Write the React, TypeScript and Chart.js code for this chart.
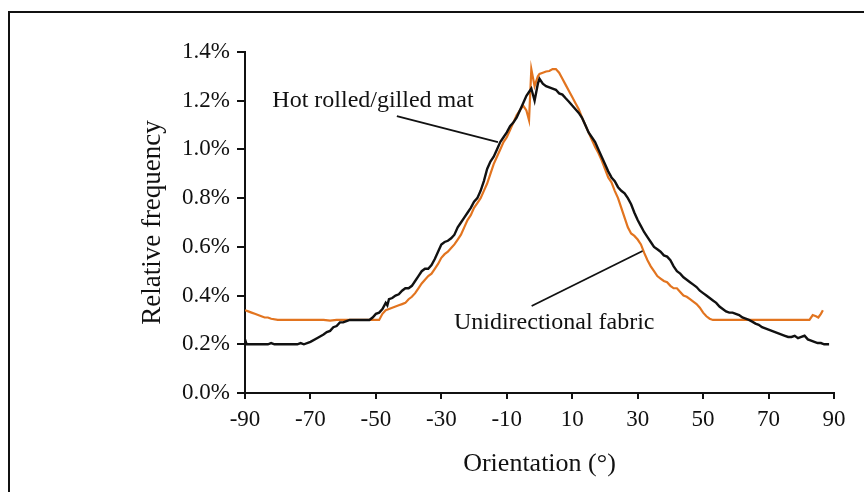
import React, { useEffect, useRef } from "react";
import { Chart, registerables } from "chart.js";

Chart.register(...registerables);

// Orientation (degrees) and relative frequency (%)
const hotX = [
  -90, -89.5, -86, -83, -82, -81, -76, -74, -73, -72, -70, -68, -66, -65, -64, -63, -62, -61, -60, -59,
  -58, -56, -54, -52, -51, -50, -49, -48, -47, -46.5, -46, -45, -44, -43, -42, -41, -40, -39, -38, -37,
  -36, -35, -34, -33, -32, -31, -30, -29, -28, -27, -26, -25, -24, -23, -22, -21, -20, -19, -18, -17,
  -16, -15, -14, -13, -12, -11, -10, -9, -8, -7, -6, -5, -4, -3, -2.5, -1.5, -0.5, 0, 1, 2,
  3, 4, 5, 6, 7, 8, 9, 10, 11, 12, 13, 14, 15, 16, 17, 18, 19, 20, 21, 22,
  23, 24, 25, 26, 27, 28, 29, 30, 31, 32, 33, 34, 35, 36, 37, 38, 39, 40, 41, 42,
  43, 44, 45, 46, 47, 48, 49, 50, 51, 52, 53, 54, 55, 56, 57, 58, 59, 60, 61, 62,
  63, 64, 65, 66, 67, 68, 69, 70, 71, 72, 73, 74, 75, 76, 77, 78, 79, 80, 81, 82,
  83, 84, 85, 86, 87, 88.5,
];
const hotY = [
  0.22, 0.2, 0.2, 0.2, 0.205, 0.2, 0.2, 0.2, 0.205, 0.2, 0.21, 0.225, 0.24, 0.25, 0.255, 0.27, 0.275, 0.29, 0.29, 0.295,
  0.3, 0.3, 0.3, 0.3, 0.31, 0.325, 0.33, 0.345, 0.37, 0.36, 0.385, 0.39, 0.4, 0.405, 0.42, 0.43, 0.43, 0.44, 0.46, 0.48,
  0.5, 0.51, 0.51, 0.525, 0.55, 0.58, 0.61, 0.62, 0.625, 0.635, 0.65, 0.68, 0.7, 0.72, 0.74, 0.76, 0.785, 0.8, 0.83, 0.87,
  0.92, 0.95, 0.97, 1.0, 1.03, 1.05, 1.07, 1.095, 1.11, 1.13, 1.16, 1.19, 1.22, 1.24, 1.25, 1.2, 1.27, 1.29, 1.27, 1.26,
  1.255, 1.25, 1.245, 1.23, 1.225, 1.21, 1.196, 1.18, 1.165, 1.15, 1.13, 1.1, 1.07, 1.05, 1.03, 1.0, 0.97, 0.94, 0.91, 0.885,
  0.87, 0.845, 0.83, 0.82, 0.8, 0.775, 0.74, 0.71, 0.685, 0.66, 0.64, 0.62, 0.6, 0.59, 0.58, 0.565, 0.56, 0.545, 0.52, 0.5,
  0.49, 0.475, 0.465, 0.455, 0.445, 0.435, 0.42, 0.41, 0.4, 0.39, 0.38, 0.37, 0.355, 0.345, 0.335, 0.33, 0.33, 0.325, 0.32, 0.31,
  0.305, 0.3, 0.293, 0.285, 0.28, 0.27, 0.265, 0.26, 0.255, 0.25, 0.245, 0.24, 0.235, 0.23, 0.23, 0.235, 0.225, 0.23, 0.235, 0.22,
  0.215, 0.21, 0.205, 0.205, 0.2, 0.2,
];

const uniX = [
  -90, -89, -88, -87, -86, -85, -84, -83, -82, -80, -75, -70, -66, -64, -62, -55, -50, -49, -48, -47,
  -46, -45, -44, -43, -42, -41, -40, -39, -38, -37, -36, -35, -34, -33, -32, -31, -30, -29, -28, -27,
  -26, -25, -24, -23, -22, -21, -20, -19, -18, -17, -16, -15, -14, -13, -12, -11, -10, -9, -8, -7,
  -6, -5, -4, -3.2, -2.5, -1.5, -0.5, 0, 1, 2, 3, 4, 5, 6, 7, 8, 9, 10, 11, 12,
  13, 14, 15, 16, 17, 18, 19, 20, 21, 22, 23, 24, 25, 26, 27, 28, 29, 30, 31, 32,
  33, 34, 35, 36, 37, 38, 39, 40, 41, 42, 43, 44, 45, 46, 47, 48, 49, 50, 51, 52,
  53, 55, 60, 70, 80, 82.5, 83.5, 84.5, 85.2, 86, 86.6,
];
const uniY = [
  0.34, 0.335, 0.33, 0.325, 0.32, 0.315, 0.31, 0.31, 0.305, 0.3, 0.3, 0.3, 0.3, 0.297, 0.3, 0.3, 0.3, 0.3, 0.325, 0.34,
  0.345, 0.35, 0.355, 0.36, 0.365, 0.37, 0.385, 0.395, 0.41, 0.43, 0.45, 0.465, 0.48, 0.49, 0.51, 0.53, 0.555, 0.57, 0.58, 0.595,
  0.61, 0.63, 0.65, 0.68, 0.71, 0.73, 0.76, 0.78, 0.8, 0.83, 0.86, 0.9, 0.94, 0.97, 1.0, 1.03, 1.05, 1.08, 1.11, 1.14,
  1.16, 1.18, 1.16, 1.12, 1.33, 1.26, 1.3, 1.31, 1.315, 1.32, 1.322, 1.33, 1.33, 1.315, 1.29, 1.265, 1.24, 1.215, 1.19, 1.165,
  1.13, 1.1, 1.07, 1.04, 1.01, 0.985, 0.955, 0.92, 0.885, 0.865, 0.83, 0.8, 0.76, 0.72, 0.68, 0.655, 0.645, 0.63, 0.61, 0.575,
  0.545, 0.52, 0.5, 0.48, 0.47, 0.46, 0.455, 0.44, 0.43, 0.43, 0.415, 0.4, 0.395, 0.385, 0.375, 0.365, 0.35, 0.33, 0.315, 0.305,
  0.3, 0.3, 0.3, 0.3, 0.3, 0.3, 0.32, 0.315, 0.31, 0.325, 0.34,
];

const xTicks = [-90, -70, -50, -30, -10, 10, 30, 50, 70, 90];
const yTicks = [0, 0.2, 0.4, 0.6, 0.8, 1.0, 1.2, 1.4];

const seriesNames = ["Hot rolled/gilled mat", "Unidirectional fabric"];
// annotation anchors in data units: [labelX, labelY, lineX1, lineY1, lineX2, lineY2]
const hotNote = [-50.9, 1.2, -43.6, 1.137, -12.7, 1.03];
const uniNote = [4.5, 0.287, -2.4, 0.357, 31.5, 0.583];

const FONT = '"Liberation Serif", "Times New Roman", serif';
const INK = "#111";

const notesPlugin = {
  id: "notes",
  afterDatasetsDraw(chart: any) {
    const { ctx, scales } = chart;
    const x = scales.x;
    const y = scales.y;
    ctx.save();
    ctx.strokeStyle = INK;
    ctx.lineWidth = 1.8;
    ctx.fillStyle = INK;
    ctx.font = `24px ${FONT}`;
    ctx.textAlign = "center";
    ctx.textBaseline = "middle";
    const notes = [hotNote, uniNote];
    notes.forEach((n, i) => {
      ctx.beginPath();
      ctx.moveTo(x.getPixelForValue(n[2]), y.getPixelForValue(n[3]));
      ctx.lineTo(x.getPixelForValue(n[4]), y.getPixelForValue(n[5]));
      ctx.stroke();
      ctx.fillText(seriesNames[i], x.getPixelForValue(n[0]), y.getPixelForValue(n[1]));
    });
    ctx.restore();
  },
};

export default function App() {
  const ref = useRef<HTMLCanvasElement | null>(null);
  useEffect(() => {
    if (!ref.current) return;
    const chart = new Chart(ref.current, {
      type: "line",
      data: {
        datasets: [
          {
            label: seriesNames[0],
            data: hotX.map((v, i) => ({ x: v, y: hotY[i] })),
            borderColor: "#111",
            borderWidth: 2.4,
            pointRadius: 0,
            tension: 0,
          },
          {
            label: seriesNames[1],
            data: uniX.map((v, i) => ({ x: v, y: uniY[i] })),
            borderColor: "#E2741F",
            borderWidth: 2.2,
            pointRadius: 0,
            tension: 0,
          },
        ],
      },
      options: {
        responsive: false,
        animation: false,
        layout: { padding: { top: 52, right: 30, bottom: 0, left: 0 } },
        plugins: { legend: { display: false }, tooltip: { enabled: false } },
        scales: {
          x: {
            type: "linear",
            min: -90,
            max: 90,
            afterBuildTicks: (s: any) => {
              s.ticks = xTicks.map((v) => ({ value: v }));
            },
            afterFit: (s: any) => {
              s.height = 99;
              s.paddingLeft = 0;
              s.paddingRight = 0;
            },
            grid: { display: true, drawOnChartArea: false, drawTicks: true, tickLength: 6, color: INK, lineWidth: 2 },
            border: { display: true, color: INK, width: 2 },
            ticks: { color: INK, font: { family: FONT, size: 23 }, padding: 7, maxRotation: 0, autoSkip: false },
            title: {
              display: true,
              text: "Orientation (°)",
              color: INK,
              font: { family: FONT, size: 26 },
              padding: { top: 0, bottom: 12 },
            },
          },
          y: {
            type: "linear",
            min: 0,
            max: 1.4,
            afterBuildTicks: (s: any) => {
              s.ticks = yTicks.map((v) => ({ value: v }));
            },
            afterFit: (s: any) => {
              s.width = 245;
              s.paddingTop = 0;
              s.paddingBottom = 0;
            },
            grid: { display: true, drawOnChartArea: false, drawTicks: true, tickLength: 8, color: INK, lineWidth: 2 },
            border: { display: true, color: INK, width: 2 },
            ticks: {
              color: INK,
              font: { family: FONT, size: 23 },
              padding: 7,
              autoSkip: false,
              callback: (v: any) => Number(v).toFixed(1) + "%",
            },
            title: {
              display: true,
              text: "Relative frequency",
              color: INK,
              font: { family: FONT, size: 27 },
              padding: { top: 137, bottom: 0 },
            },
          },
        },
      },
      plugins: [notesPlugin],
    });
    return () => chart.destroy();
  }, []);

  return (
    <>
      <div
        style={{
          position: "fixed",
          left: 8,
          top: 11,
          right: 0,
          bottom: 0,
          borderTop: "2.5px solid #111",
          borderLeft: "2.5px solid #111",
          background: "#fff",
        }}
      />
      <canvas ref={ref} width={864} height={492} style={{ position: "fixed", left: 0, top: 0 }} />
    </>
  );
}
